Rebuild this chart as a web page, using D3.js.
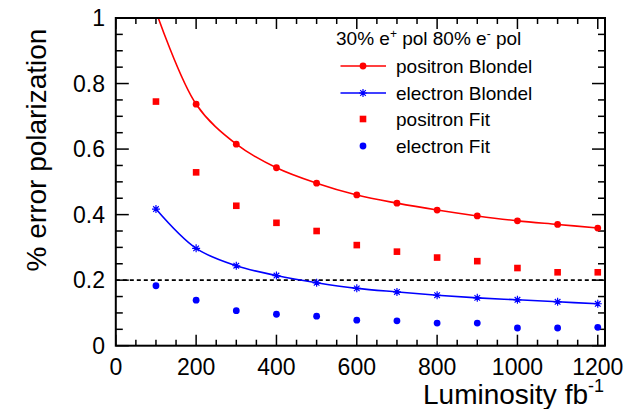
<!DOCTYPE html>
<html><head><meta charset="utf-8">
<script src="https://cdn.jsdelivr.net/npm/d3@7/dist/d3.min.js"></script>
<style>
html,body{margin:0;padding:0;background:#fff;}
svg{display:block;font-family:"Liberation Sans",Arial,Helvetica,sans-serif;}
</style></head>
<body>
<svg id="c" width="624" height="409"></svg>
<script>
const luminosity = [100,200,300,400,500,600,700,800,900,1000,1100,1200];
const positronBlondel = [1.02,0.737,0.615,0.543,0.496,0.460,0.435,0.414,0.396,0.381,0.370,0.359];
const electronBlondel = [0.417,0.297,0.244,0.214,0.192,0.175,0.164,0.154,0.146,0.140,0.134,0.128];
const positronFit = [0.745,0.529,0.427,0.375,0.350,0.307,0.287,0.269,0.258,0.237,0.224,0.224];
const electronFit = [0.183,0.139,0.107,0.096,0.090,0.078,0.076,0.069,0.069,0.054,0.054,0.056];
const xTicks = [0,200,400,600,800,1000,1200];
const yTicks = [0,0.2,0.4,0.6,0.8,1];
const yTickLabels = ["0","0.2","0.4","0.6","0.8","1"];
const refLine = 0.2;
const legendHeader = ["30% e","+"," pol 80% e","-"," pol"];
const legendLabels = ["positron Blondel","electron Blondel","positron Fit","electron Fit"];

const svg = d3.select("#c");
const L = 115.8, R = 605, T = 18, B = 345.7;
const x = d3.scaleLinear().domain([0,1218]).range([L,R]);
const y = d3.scaleLinear().domain([0,1]).range([B,T]);
const RED = "#ff0000", BLUE = "#0000ff";

svg.append("defs").append("clipPath").attr("id","clip")
  .append("rect").attr("x",L).attr("y",T).attr("width",R-L).attr("height",B-T);

// ticks
const tickG = svg.append("g").attr("stroke","#000").attr("stroke-width",1.5);
d3.range(0,1219,50).forEach(v=>{
  const major = v%200===0, len = major?11:6;
  tickG.append("line").attr("x1",x(v)).attr("x2",x(v)).attr("y1",B).attr("y2",B-len);
  tickG.append("line").attr("x1",x(v)).attr("x2",x(v)).attr("y1",T).attr("y2",T+len);
});
d3.range(0,21).forEach(i=>{
  const v=i*0.05, major=i%4===0, len=major?13:7;
  tickG.append("line").attr("x1",L).attr("x2",L+len).attr("y1",y(v)).attr("y2",y(v));
  tickG.append("line").attr("x1",R).attr("x2",R-len).attr("y1",y(v)).attr("y2",y(v));
});

// tick labels
svg.append("g").selectAll("text").data(xTicks).join("text")
  .attr("x",d=>x(d)).attr("y",375).attr("text-anchor","middle")
  .attr("font-size",23).attr("fill","#000").text(d=>d);
svg.append("g").selectAll("text").data(yTicks).join("text")
  .attr("x",105).attr("y",d=>y(d)+8).attr("text-anchor","end")
  .attr("font-size",23).attr("fill","#000").text((d,i)=>yTickLabels[i]);

// axis titles
const xt = svg.append("text").attr("x",604).attr("y",404).attr("text-anchor","end")
  .attr("font-size",28).attr("fill","#000");
xt.append("tspan").text("Luminosity fb");
xt.append("tspan").attr("font-size",18).attr("dy",-12).text("-1");
svg.append("text").attr("transform","translate(46,150) rotate(-90)")
  .attr("text-anchor","middle").attr("font-size",28).attr("fill","#000")
  .text("% error polarization");

// dashed reference
svg.append("line").attr("x1",L).attr("x2",R).attr("y1",y(refLine)).attr("y2",y(refLine))
  .attr("stroke","#000").attr("stroke-width",1.6).attr("stroke-dasharray","4,3");

const plot = svg.append("g").attr("clip-path","url(#clip)");
const line = d3.line().x(d=>x(d[0])).y(d=>y(d[1])).curve(d3.curveCatmullRom.alpha(0.5));
const pb = luminosity.map((l,i)=>[l,positronBlondel[i]]);
const eb = luminosity.map((l,i)=>[l,electronBlondel[i]]);
const pf = luminosity.map((l,i)=>[l,positronFit[i]]);
const ef = luminosity.map((l,i)=>[l,electronFit[i]]);

plot.append("path").attr("d",line(pb)).attr("fill","none").attr("stroke",RED).attr("stroke-width",1.6);
plot.append("path").attr("d",line(eb)).attr("fill","none").attr("stroke",BLUE).attr("stroke-width",1.6);

function star(g,cx,cy,s,color){
  const a=s, b=s*0.7;
  g.append("path").attr("d",`M${cx-a},${cy}H${cx+a}M${cx},${cy-a}V${cy+a}M${cx-b},${cy-b}L${cx+b},${cy+b}M${cx-b},${cy+b}L${cx+b},${cy-b}`)
   .attr("stroke",color).attr("stroke-width",1.2).attr("fill","none");
}
plot.selectAll("circle.pb").data(pb).join("circle").attr("class","pb")
  .attr("cx",d=>x(d[0])).attr("cy",d=>y(d[1])).attr("r",3.4).attr("fill",RED);
eb.forEach(d=>star(plot,x(d[0]),y(d[1]),4,BLUE));
plot.selectAll("rect.pf").data(pf).join("rect").attr("class","pf")
  .attr("x",d=>x(d[0])-3.3).attr("y",d=>y(d[1])-3.3).attr("width",6.6).attr("height",6.6).attr("fill",RED);
plot.selectAll("circle.ef").data(ef).join("circle").attr("class","ef")
  .attr("cx",d=>x(d[0])).attr("cy",d=>y(d[1])).attr("r",3.4).attr("fill",BLUE);

// frame
svg.append("rect").attr("x",L).attr("y",T).attr("width",R-L).attr("height",B-T)
  .attr("fill","none").attr("stroke","#000").attr("stroke-width",2);

// legend
const lg = svg.append("g").attr("font-size",19).attr("fill","#000");
const hdr = lg.append("text").attr("x",336).attr("y",45);
hdr.append("tspan").text(legendHeader[0]);
hdr.append("tspan").attr("font-size",12).attr("dy",-7).text(legendHeader[1]);
hdr.append("tspan").attr("dy",7).text(legendHeader[2]);
hdr.append("tspan").attr("font-size",12).attr("dy",-7).text(legendHeader[3]);
hdr.append("tspan").attr("dy",7).text(legendHeader[4]);
const rows=[66,93,119,146];
const lx1=340.5, lx2=386, mx=363;
legendLabels.forEach((t,i)=>{
  lg.append("text").attr("x",396).attr("y",rows[i]+7).text(t);
});
lg.append("line").attr("x1",lx1).attr("x2",lx2).attr("y1",rows[0]).attr("y2",rows[0]).attr("stroke",RED).attr("stroke-width",1.6);
lg.append("circle").attr("cx",mx).attr("cy",rows[0]).attr("r",3.4).attr("fill",RED);
lg.append("line").attr("x1",lx1).attr("x2",lx2).attr("y1",rows[1]).attr("y2",rows[1]).attr("stroke",BLUE).attr("stroke-width",1.6);
star(lg,mx,rows[1],4,BLUE);
lg.append("rect").attr("x",mx-3.3).attr("y",rows[2]-3.3).attr("width",6.6).attr("height",6.6).attr("fill",RED);
lg.append("circle").attr("cx",mx).attr("cy",rows[3]).attr("r",3.4).attr("fill",BLUE);
</script>
</body></html>
